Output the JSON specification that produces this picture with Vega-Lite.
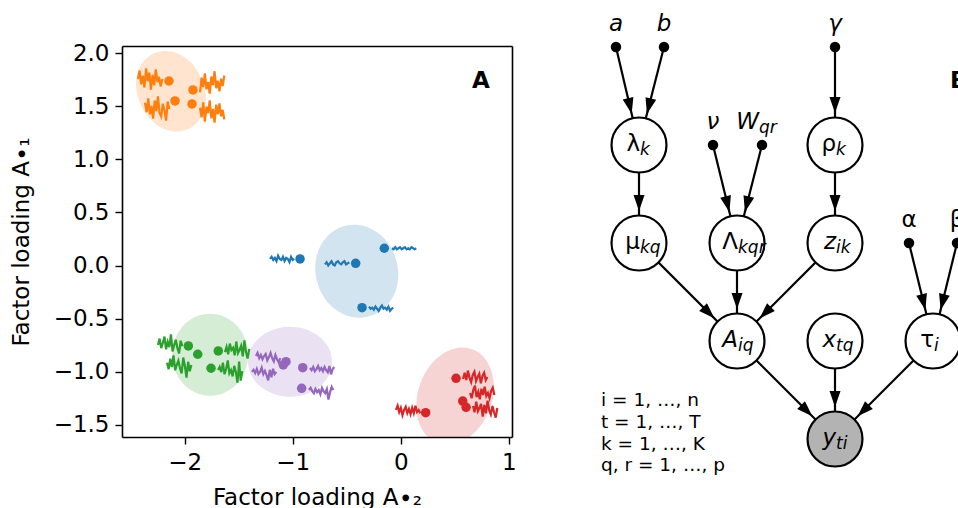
{
  "$schema": "https://vega.github.io/schema/vega-lite/v6.json",
  "width": 958,
  "height": 508,
  "autosize": {"type": "none"},
  "padding": 0,
  "background": "white",
  "config": {"view": {"stroke": null}, "font": "DejaVu Sans"},
  "datasets": {
    "ell": [
      {"c": "o", "x": -2.126, "y": 1.642},
      {"c": "b", "x": -0.407, "y": -0.054},
      {"c": "g", "x": -1.765, "y": -0.84},
      {"c": "p", "x": -1.025, "y": -0.906},
      {"c": "r", "x": 0.503, "y": -1.23}
    ],
    "pts": [
      {"c": "o", "x": -2.145, "y": 1.739}, {"c": "o", "x": -1.923, "y": 1.655}, {"c": "o", "x": -2.089, "y": 1.551}, {"c": "o", "x": -1.932, "y": 1.523},
      {"c": "b", "x": -0.932, "y": 0.062}, {"c": "b", "x": -0.417, "y": 0.021}, {"c": "b", "x": -0.152, "y": 0.163}, {"c": "b", "x": -0.358, "y": -0.397},
      {"c": "g", "x": -1.966, "y": -0.758}, {"c": "g", "x": -1.879, "y": -0.836}, {"c": "g", "x": -1.689, "y": -0.805}, {"c": "g", "x": -1.756, "y": -0.968},
      {"c": "p", "x": -1.062, "y": -0.906}, {"c": "p", "x": -1.087, "y": -0.937}, {"c": "p", "x": -0.907, "y": -0.963}, {"c": "p", "x": -0.917, "y": -1.157},
      {"c": "r", "x": 0.512, "y": -1.063}, {"c": "r", "x": 0.574, "y": -1.277}, {"c": "r", "x": 0.605, "y": -1.336}, {"c": "r", "x": 0.231, "y": -1.387}
    ],
    "ts": [
      {"s":"B1","c":"b","x":-1.210,"y":0.062},{"s":"B1","c":"b","x":-1.195,"y":0.082},{"s":"B1","c":"b","x":-1.180,"y":0.052},{"s":"B1","c":"b","x":-1.165,"y":0.072},{"s":"B1","c":"b","x":-1.150,"y":0.042},{"s":"B1","c":"b","x":-1.135,"y":0.092},{"s":"B1","c":"b","x":-1.120,"y":0.062},{"s":"B1","c":"b","x":-1.105,"y":0.052},{"s":"B1","c":"b","x":-1.090,"y":0.082},{"s":"B1","c":"b","x":-1.075,"y":0.042},{"s":"B1","c":"b","x":-1.060,"y":0.072},{"s":"B1","c":"b","x":-1.045,"y":0.062},{"s":"B1","c":"b","x":-1.030,"y":0.032},{"s":"B1","c":"b","x":-1.015,"y":0.082},{"s":"B1","c":"b","x":-1.000,"y":0.052},{"s":"B1","c":"b","x":-0.985,"y":0.062},
      {"s":"B2","c":"b","x":-0.701,"y":0.011},{"s":"B2","c":"b","x":-0.686,"y":0.031},{"s":"B2","c":"b","x":-0.671,"y":0.001},{"s":"B2","c":"b","x":-0.656,"y":0.021},{"s":"B2","c":"b","x":-0.641,"y":0.041},{"s":"B2","c":"b","x":-0.626,"y":0.011},{"s":"B2","c":"b","x":-0.611,"y":0.001},{"s":"B2","c":"b","x":-0.596,"y":0.031},{"s":"B2","c":"b","x":-0.581,"y":0.041},{"s":"B2","c":"b","x":-0.566,"y":0.021},{"s":"B2","c":"b","x":-0.551,"y":0.011},{"s":"B2","c":"b","x":-0.536,"y":0.031},{"s":"B2","c":"b","x":-0.521,"y":0.041},{"s":"B2","c":"b","x":-0.506,"y":0.011},{"s":"B2","c":"b","x":-0.491,"y":0.021},{"s":"B2","c":"b","x":-0.476,"y":0.031},
      {"s":"B3","c":"b","x":-0.081,"y":0.163},{"s":"B3","c":"b","x":-0.066,"y":0.153},{"s":"B3","c":"b","x":-0.051,"y":0.173},{"s":"B3","c":"b","x":-0.036,"y":0.153},{"s":"B3","c":"b","x":-0.021,"y":0.163},{"s":"B3","c":"b","x":-0.006,"y":0.173},{"s":"B3","c":"b","x":0.009,"y":0.153},{"s":"B3","c":"b","x":0.024,"y":0.163},{"s":"B3","c":"b","x":0.039,"y":0.173},{"s":"B3","c":"b","x":0.054,"y":0.153},{"s":"B3","c":"b","x":0.069,"y":0.163},{"s":"B3","c":"b","x":0.084,"y":0.153},{"s":"B3","c":"b","x":0.099,"y":0.173},{"s":"B3","c":"b","x":0.114,"y":0.163},{"s":"B3","c":"b","x":0.129,"y":0.153},{"s":"B3","c":"b","x":0.144,"y":0.163},
      {"s":"B4","c":"b","x":-0.294,"y":-0.387},{"s":"B4","c":"b","x":-0.279,"y":-0.407},{"s":"B4","c":"b","x":-0.264,"y":-0.397},{"s":"B4","c":"b","x":-0.249,"y":-0.417},{"s":"B4","c":"b","x":-0.234,"y":-0.387},{"s":"B4","c":"b","x":-0.219,"y":-0.407},{"s":"B4","c":"b","x":-0.204,"y":-0.427},{"s":"B4","c":"b","x":-0.189,"y":-0.397},{"s":"B4","c":"b","x":-0.174,"y":-0.377},{"s":"B4","c":"b","x":-0.159,"y":-0.407},{"s":"B4","c":"b","x":-0.144,"y":-0.397},{"s":"B4","c":"b","x":-0.129,"y":-0.417},{"s":"B4","c":"b","x":-0.114,"y":-0.387},{"s":"B4","c":"b","x":-0.099,"y":-0.427},{"s":"B4","c":"b","x":-0.084,"y":-0.407},{"s":"B4","c":"b","x":-0.069,"y":-0.397},
      {"s":"O1","c":"o","x":-2.432,"y":1.758},{"s":"O1","c":"o","x":-2.417,"y":1.838},{"s":"O1","c":"o","x":-2.402,"y":1.708},{"s":"O1","c":"o","x":-2.387,"y":1.788},{"s":"O1","c":"o","x":-2.372,"y":1.678},{"s":"O1","c":"o","x":-2.357,"y":1.858},{"s":"O1","c":"o","x":-2.342,"y":1.738},{"s":"O1","c":"o","x":-2.327,"y":1.818},{"s":"O1","c":"o","x":-2.312,"y":1.658},{"s":"O1","c":"o","x":-2.297,"y":1.798},{"s":"O1","c":"o","x":-2.282,"y":1.698},{"s":"O1","c":"o","x":-2.267,"y":1.848},{"s":"O1","c":"o","x":-2.252,"y":1.728},{"s":"O1","c":"o","x":-2.237,"y":1.778},{"s":"O1","c":"o","x":-2.222,"y":1.688},{"s":"O1","c":"o","x":-2.207,"y":1.758},
      {"s":"O2","c":"o","x":-2.367,"y":1.535},{"s":"O2","c":"o","x":-2.352,"y":1.445},{"s":"O2","c":"o","x":-2.337,"y":1.575},{"s":"O2","c":"o","x":-2.322,"y":1.425},{"s":"O2","c":"o","x":-2.307,"y":1.505},{"s":"O2","c":"o","x":-2.292,"y":1.385},{"s":"O2","c":"o","x":-2.277,"y":1.555},{"s":"O2","c":"o","x":-2.262,"y":1.455},{"s":"O2","c":"o","x":-2.247,"y":1.595},{"s":"O2","c":"o","x":-2.232,"y":1.435},{"s":"O2","c":"o","x":-2.217,"y":1.405},{"s":"O2","c":"o","x":-2.202,"y":1.525},{"s":"O2","c":"o","x":-2.187,"y":1.465},{"s":"O2","c":"o","x":-2.172,"y":1.365},{"s":"O2","c":"o","x":-2.157,"y":1.545},{"s":"O2","c":"o","x":-2.142,"y":1.475},
      {"s":"O3","c":"o","x":-1.858,"y":1.631},{"s":"O3","c":"o","x":-1.843,"y":1.771},{"s":"O3","c":"o","x":-1.828,"y":1.681},{"s":"O3","c":"o","x":-1.813,"y":1.811},{"s":"O3","c":"o","x":-1.798,"y":1.661},{"s":"O3","c":"o","x":-1.783,"y":1.731},{"s":"O3","c":"o","x":-1.768,"y":1.621},{"s":"O3","c":"o","x":-1.753,"y":1.781},{"s":"O3","c":"o","x":-1.738,"y":1.701},{"s":"O3","c":"o","x":-1.723,"y":1.831},{"s":"O3","c":"o","x":-1.708,"y":1.671},{"s":"O3","c":"o","x":-1.693,"y":1.741},{"s":"O3","c":"o","x":-1.678,"y":1.641},{"s":"O3","c":"o","x":-1.663,"y":1.761},{"s":"O3","c":"o","x":-1.648,"y":1.691},{"s":"O3","c":"o","x":-1.633,"y":1.791},
      {"s":"O4","c":"o","x":-1.858,"y":1.487},{"s":"O4","c":"o","x":-1.843,"y":1.397},{"s":"O4","c":"o","x":-1.828,"y":1.537},{"s":"O4","c":"o","x":-1.813,"y":1.357},{"s":"O4","c":"o","x":-1.798,"y":1.497},{"s":"O4","c":"o","x":-1.783,"y":1.437},{"s":"O4","c":"o","x":-1.768,"y":1.557},{"s":"O4","c":"o","x":-1.753,"y":1.387},{"s":"O4","c":"o","x":-1.738,"y":1.477},{"s":"O4","c":"o","x":-1.723,"y":1.347},{"s":"O4","c":"o","x":-1.708,"y":1.517},{"s":"O4","c":"o","x":-1.693,"y":1.427},{"s":"O4","c":"o","x":-1.678,"y":1.527},{"s":"O4","c":"o","x":-1.663,"y":1.407},{"s":"O4","c":"o","x":-1.648,"y":1.467},{"s":"O4","c":"o","x":-1.633,"y":1.377},
      {"s":"G1","c":"g","x":-2.247,"y":-0.749},{"s":"G1","c":"g","x":-2.232,"y":-0.689},{"s":"G1","c":"g","x":-2.217,"y":-0.779},{"s":"G1","c":"g","x":-2.202,"y":-0.729},{"s":"G1","c":"g","x":-2.187,"y":-0.669},{"s":"G1","c":"g","x":-2.172,"y":-0.789},{"s":"G1","c":"g","x":-2.157,"y":-0.719},{"s":"G1","c":"g","x":-2.142,"y":-0.769},{"s":"G1","c":"g","x":-2.127,"y":-0.649},{"s":"G1","c":"g","x":-2.112,"y":-0.809},{"s":"G1","c":"g","x":-2.097,"y":-0.749},{"s":"G1","c":"g","x":-2.082,"y":-0.699},{"s":"G1","c":"g","x":-2.067,"y":-0.779},{"s":"G1","c":"g","x":-2.052,"y":-0.829},{"s":"G1","c":"g","x":-2.037,"y":-0.709},{"s":"G1","c":"g","x":-2.022,"y":-0.759},
      {"s":"G2","c":"g","x":-2.163,"y":-0.917},{"s":"G2","c":"g","x":-2.148,"y":-0.977},{"s":"G2","c":"g","x":-2.133,"y":-0.877},{"s":"G2","c":"g","x":-2.118,"y":-0.957},{"s":"G2","c":"g","x":-2.103,"y":-0.847},{"s":"G2","c":"g","x":-2.088,"y":-0.987},{"s":"G2","c":"g","x":-2.073,"y":-0.937},{"s":"G2","c":"g","x":-2.058,"y":-0.897},{"s":"G2","c":"g","x":-2.043,"y":-0.967},{"s":"G2","c":"g","x":-2.028,"y":-1.017},{"s":"G2","c":"g","x":-2.013,"y":-0.867},{"s":"G2","c":"g","x":-1.998,"y":-0.947},{"s":"G2","c":"g","x":-1.983,"y":-1.057},{"s":"G2","c":"g","x":-1.968,"y":-0.907},{"s":"G2","c":"g","x":-1.953,"y":-0.997},{"s":"G2","c":"g","x":-1.938,"y":-0.937},
      {"s":"G3","c":"g","x":-1.627,"y":-0.816},{"s":"G3","c":"g","x":-1.612,"y":-0.766},{"s":"G3","c":"g","x":-1.597,"y":-0.836},{"s":"G3","c":"g","x":-1.582,"y":-0.736},{"s":"G3","c":"g","x":-1.567,"y":-0.796},{"s":"G3","c":"g","x":-1.552,"y":-0.776},{"s":"G3","c":"g","x":-1.537,"y":-0.846},{"s":"G3","c":"g","x":-1.522,"y":-0.716},{"s":"G3","c":"g","x":-1.507,"y":-0.826},{"s":"G3","c":"g","x":-1.492,"y":-0.796},{"s":"G3","c":"g","x":-1.477,"y":-0.756},{"s":"G3","c":"g","x":-1.462,"y":-0.856},{"s":"G3","c":"g","x":-1.447,"y":-0.706},{"s":"G3","c":"g","x":-1.432,"y":-0.816},{"s":"G3","c":"g","x":-1.417,"y":-0.876},{"s":"G3","c":"g","x":-1.402,"y":-0.786},
      {"s":"G4","c":"g","x":-1.691,"y":-0.985},{"s":"G4","c":"g","x":-1.676,"y":-0.955},{"s":"G4","c":"g","x":-1.661,"y":-1.005},{"s":"G4","c":"g","x":-1.646,"y":-0.915},{"s":"G4","c":"g","x":-1.631,"y":-1.025},{"s":"G4","c":"g","x":-1.616,"y":-0.975},{"s":"G4","c":"g","x":-1.601,"y":-0.895},{"s":"G4","c":"g","x":-1.586,"y":-1.015},{"s":"G4","c":"g","x":-1.571,"y":-0.985},{"s":"G4","c":"g","x":-1.556,"y":-1.045},{"s":"G4","c":"g","x":-1.541,"y":-0.945},{"s":"G4","c":"g","x":-1.526,"y":-1.005},{"s":"G4","c":"g","x":-1.511,"y":-1.105},{"s":"G4","c":"g","x":-1.496,"y":-0.905},{"s":"G4","c":"g","x":-1.481,"y":-1.085},{"s":"G4","c":"g","x":-1.466,"y":-0.995},
      {"s":"P1","c":"p","x":-1.340,"y":-0.853},{"s":"P1","c":"p","x":-1.325,"y":-0.823},{"s":"P1","c":"p","x":-1.310,"y":-0.873},{"s":"P1","c":"p","x":-1.295,"y":-0.843},{"s":"P1","c":"p","x":-1.280,"y":-0.883},{"s":"P1","c":"p","x":-1.265,"y":-0.853},{"s":"P1","c":"p","x":-1.250,"y":-0.833},{"s":"P1","c":"p","x":-1.235,"y":-0.893},{"s":"P1","c":"p","x":-1.220,"y":-0.863},{"s":"P1","c":"p","x":-1.205,"y":-0.823},{"s":"P1","c":"p","x":-1.190,"y":-0.873},{"s":"P1","c":"p","x":-1.175,"y":-0.903},{"s":"P1","c":"p","x":-1.160,"y":-0.843},{"s":"P1","c":"p","x":-1.145,"y":-0.883},{"s":"P1","c":"p","x":-1.130,"y":-0.913},{"s":"P1","c":"p","x":-1.115,"y":-0.873},
      {"s":"P2","c":"p","x":-1.377,"y":-1.003},{"s":"P2","c":"p","x":-1.362,"y":-0.983},{"s":"P2","c":"p","x":-1.347,"y":-1.013},{"s":"P2","c":"p","x":-1.332,"y":-0.973},{"s":"P2","c":"p","x":-1.317,"y":-1.023},{"s":"P2","c":"p","x":-1.302,"y":-1.003},{"s":"P2","c":"p","x":-1.287,"y":-0.963},{"s":"P2","c":"p","x":-1.272,"y":-1.023},{"s":"P2","c":"p","x":-1.257,"y":-0.993},{"s":"P2","c":"p","x":-1.242,"y":-1.033},{"s":"P2","c":"p","x":-1.227,"y":-1.083},{"s":"P2","c":"p","x":-1.212,"y":-0.983},{"s":"P2","c":"p","x":-1.197,"y":-1.053},{"s":"P2","c":"p","x":-1.182,"y":-0.973},{"s":"P2","c":"p","x":-1.167,"y":-1.023},{"s":"P2","c":"p","x":-1.152,"y":-1.003},
      {"s":"P3","c":"p","x":-0.840,"y":-0.966},{"s":"P3","c":"p","x":-0.825,"y":-0.986},{"s":"P3","c":"p","x":-0.810,"y":-0.956},{"s":"P3","c":"p","x":-0.795,"y":-0.996},{"s":"P3","c":"p","x":-0.780,"y":-0.976},{"s":"P3","c":"p","x":-0.765,"y":-0.946},{"s":"P3","c":"p","x":-0.750,"y":-0.986},{"s":"P3","c":"p","x":-0.735,"y":-0.966},{"s":"P3","c":"p","x":-0.720,"y":-0.996},{"s":"P3","c":"p","x":-0.705,"y":-0.956},{"s":"P3","c":"p","x":-0.690,"y":-0.986},{"s":"P3","c":"p","x":-0.675,"y":-1.006},{"s":"P3","c":"p","x":-0.660,"y":-0.946},{"s":"P3","c":"p","x":-0.645,"y":-1.026},{"s":"P3","c":"p","x":-0.630,"y":-0.976},{"s":"P3","c":"p","x":-0.615,"y":-0.956},
      {"s":"P4","c":"p","x":-0.849,"y":-1.173},{"s":"P4","c":"p","x":-0.834,"y":-1.153},{"s":"P4","c":"p","x":-0.819,"y":-1.183},{"s":"P4","c":"p","x":-0.804,"y":-1.203},{"s":"P4","c":"p","x":-0.789,"y":-1.163},{"s":"P4","c":"p","x":-0.774,"y":-1.193},{"s":"P4","c":"p","x":-0.759,"y":-1.173},{"s":"P4","c":"p","x":-0.744,"y":-1.213},{"s":"P4","c":"p","x":-0.729,"y":-1.153},{"s":"P4","c":"p","x":-0.714,"y":-1.183},{"s":"P4","c":"p","x":-0.699,"y":-1.203},{"s":"P4","c":"p","x":-0.684,"y":-1.163},{"s":"P4","c":"p","x":-0.669,"y":-1.263},{"s":"P4","c":"p","x":-0.654,"y":-1.193},{"s":"P4","c":"p","x":-0.639,"y":-1.143},{"s":"P4","c":"p","x":-0.624,"y":-1.173},
      {"s":"R1","c":"r","x":-0.044,"y":-1.361},{"s":"R1","c":"r","x":-0.029,"y":-1.321},{"s":"R1","c":"r","x":-0.014,"y":-1.381},{"s":"R1","c":"r","x":0.001,"y":-1.341},{"s":"R1","c":"r","x":0.016,"y":-1.411},{"s":"R1","c":"r","x":0.031,"y":-1.361},{"s":"R1","c":"r","x":0.046,"y":-1.331},{"s":"R1","c":"r","x":0.061,"y":-1.391},{"s":"R1","c":"r","x":0.076,"y":-1.351},{"s":"R1","c":"r","x":0.091,"y":-1.401},{"s":"R1","c":"r","x":0.106,"y":-1.341},{"s":"R1","c":"r","x":0.121,"y":-1.391},{"s":"R1","c":"r","x":0.136,"y":-1.321},{"s":"R1","c":"r","x":0.151,"y":-1.381},{"s":"R1","c":"r","x":0.166,"y":-1.361},{"s":"R1","c":"r","x":0.181,"y":-1.391},
      {"s":"R2","c":"r","x":0.577,"y":-1.070},{"s":"R2","c":"r","x":0.592,"y":-1.010},{"s":"R2","c":"r","x":0.607,"y":-1.080},{"s":"R2","c":"r","x":0.622,"y":-0.990},{"s":"R2","c":"r","x":0.637,"y":-1.060},{"s":"R2","c":"r","x":0.652,"y":-1.100},{"s":"R2","c":"r","x":0.667,"y":-1.030},{"s":"R2","c":"r","x":0.682,"y":-1.000},{"s":"R2","c":"r","x":0.697,"y":-1.090},{"s":"R2","c":"r","x":0.712,"y":-1.050},{"s":"R2","c":"r","x":0.727,"y":-1.020},{"s":"R2","c":"r","x":0.742,"y":-1.110},{"s":"R2","c":"r","x":0.757,"y":-1.040},{"s":"R2","c":"r","x":0.772,"y":-1.010},{"s":"R2","c":"r","x":0.787,"y":-1.080},{"s":"R2","c":"r","x":0.802,"y":-1.050},
      {"s":"R3","c":"r","x":0.642,"y":-1.201},{"s":"R3","c":"r","x":0.657,"y":-1.251},{"s":"R3","c":"r","x":0.672,"y":-1.171},{"s":"R3","c":"r","x":0.687,"y":-1.131},{"s":"R3","c":"r","x":0.702,"y":-1.241},{"s":"R3","c":"r","x":0.717,"y":-1.191},{"s":"R3","c":"r","x":0.732,"y":-1.261},{"s":"R3","c":"r","x":0.747,"y":-1.161},{"s":"R3","c":"r","x":0.762,"y":-1.221},{"s":"R3","c":"r","x":0.777,"y":-1.141},{"s":"R3","c":"r","x":0.792,"y":-1.231},{"s":"R3","c":"r","x":0.807,"y":-1.201},{"s":"R3","c":"r","x":0.822,"y":-1.251},{"s":"R3","c":"r","x":0.837,"y":-1.181},{"s":"R3","c":"r","x":0.852,"y":-1.151},{"s":"R3","c":"r","x":0.867,"y":-1.221},
      {"s":"R4","c":"r","x":0.669,"y":-1.323},{"s":"R4","c":"r","x":0.684,"y":-1.383},{"s":"R4","c":"r","x":0.699,"y":-1.283},{"s":"R4","c":"r","x":0.714,"y":-1.373},{"s":"R4","c":"r","x":0.729,"y":-1.343},{"s":"R4","c":"r","x":0.744,"y":-1.303},{"s":"R4","c":"r","x":0.759,"y":-1.423},{"s":"R4","c":"r","x":0.774,"y":-1.313},{"s":"R4","c":"r","x":0.789,"y":-1.393},{"s":"R4","c":"r","x":0.804,"y":-1.273},{"s":"R4","c":"r","x":0.819,"y":-1.363},{"s":"R4","c":"r","x":0.834,"y":-1.403},{"s":"R4","c":"r","x":0.849,"y":-1.323},{"s":"R4","c":"r","x":0.864,"y":-1.383},{"s":"R4","c":"r","x":0.879,"y":-1.433},{"s":"R4","c":"r","x":0.894,"y":-1.343}
    ],
    "nodes": [
      {"x": 1, "y": 4, "main": "λ", "sub": "k", "obs": false},
      {"x": 3, "y": 4, "main": "ρ", "sub": "k", "obs": false},
      {"x": 1, "y": 3, "main": "μ", "sub": "kq", "obs": false},
      {"x": 2, "y": 3, "main": "Λ", "sub": "kqr", "obs": false},
      {"x": 3, "y": 3, "main": "z", "sub": "ik", "obs": false},
      {"x": 2, "y": 2, "main": "A", "sub": "iq", "obs": false},
      {"x": 3, "y": 2, "main": "x", "sub": "tq", "obs": false},
      {"x": 4, "y": 2, "main": "τ", "sub": "i", "obs": false},
      {"x": 3, "y": 1, "main": "y", "sub": "ti", "obs": true}
    ],
    "hypers": [
      {"x": 0.765, "y": 5, "main": "a", "sub": ""},
      {"x": 1.255, "y": 5, "main": "b", "sub": ""},
      {"x": 3, "y": 5, "main": "γ", "sub": ""},
      {"x": 1.755, "y": 4, "main": "ν", "sub": ""},
      {"x": 2.255, "y": 4, "main": "W", "sub": "qr"},
      {"x": 3.755, "y": 3, "main": "α", "sub": ""},
      {"x": 4.245, "y": 3, "main": "β", "sub": ""}
    ],
    "edges": [
      {"x": 0.765, "y": 5, "x2": 1, "y2": 4},
      {"x": 1.255, "y": 5, "x2": 1, "y2": 4},
      {"x": 1, "y": 4, "x2": 1, "y2": 3},
      {"x": 1.755, "y": 4, "x2": 2, "y2": 3},
      {"x": 2.255, "y": 4, "x2": 2, "y2": 3},
      {"x": 3, "y": 5, "x2": 3, "y2": 4},
      {"x": 3, "y": 4, "x2": 3, "y2": 3},
      {"x": 3.755, "y": 3, "x2": 4, "y2": 2},
      {"x": 4.245, "y": 3, "x2": 4, "y2": 2},
      {"x": 1, "y": 3, "x2": 2, "y2": 2},
      {"x": 2, "y": 3, "x2": 2, "y2": 2},
      {"x": 3, "y": 3, "x2": 2, "y2": 2},
      {"x": 2, "y": 2, "x2": 3, "y2": 1},
      {"x": 3, "y": 2, "x2": 3, "y2": 1},
      {"x": 4, "y": 2, "x2": 3, "y2": 1}
    ],
    "notes": [
      {"x": 0.612, "y": 1.337, "t": ["i = 1, …, n", "t = 1, …, T", "k = 1, …, K", "q, r = 1, …, p"]}
    ],
    "panel": [
      {"x": 4.173, "y": 4.582, "t": "B"}
    ]
  },
  "layer": [
    {
      "resolve": {"axis": {"x": "independent", "y": "independent"}},
      "layer": [
        {
          "data": {"name": "ell"},
          "mark": {"type": "point", "filled": true, "opacity": 0.2, "size": 4, "strokeWidth": 0},
          "encoding": {
            "x": {"field": "x", "type": "quantitative",
              "scale": {"domain": [-2.58, 1.03], "range": [122, 512], "nice": false, "zero": false},
              "axis": {"orient": "bottom", "offset": -71, "values": [-2, -1, 0, 1], "format": "d", "grid": false,
                "tickSize": 7, "tickWidth": 1.4, "tickColor": "black", "domainColor": "black", "domainWidth": 1.6,
                "labelFontSize": 23, "labelColor": "black", "labelPadding": 7, "labelFlush": false, "labelFont": "DejaVu Sans",
                "title": "Factor loading A∙₂", "titleFontSize": 23, "titleFontWeight": "normal", "titleColor": "black", "titleFont": "DejaVu Sans", "titlePadding": 12}},
            "y": {"field": "y", "type": "quantitative",
              "scale": {"domain": [-1.616, 2.069], "range": [437, 46], "nice": false, "zero": false},
              "axis": {"orient": "left", "offset": -122, "values": [-1.5, -1, -0.5, 0, 0.5, 1, 1.5, 2], "format": ".1f", "grid": false,
                "tickSize": 7, "tickWidth": 1.4, "tickColor": "black", "domainColor": "black", "domainWidth": 1.6,
                "labelFontSize": 23, "labelColor": "black", "labelPadding": 6, "labelFlush": false, "labelFont": "DejaVu Sans",
                "title": "Factor loading A∙₁", "titleFontSize": 23, "titleFontWeight": "normal", "titleColor": "black", "titleFont": "DejaVu Sans", "titlePadding": 20}},
            "color": {"field": "c", "type": "nominal", "scale": {"domain": ["b", "o", "g", "r", "p"], "range": ["#1f77b4", "#ff7f0e", "#2ca02c", "#d62728", "#9467bd"]}, "legend": null},
            "shape": {"field": "c", "type": "nominal", "legend": null,
              "scale": {"domain": ["o", "b", "g", "p", "r"],
                "range": [
                  "M -29.9 13.9 A 33 40 -25 1 1 29.9 -13.9 A 33 40 -25 1 1 -29.9 13.9 Z",
                  "M -39.6 10.6 A 41 46 -15 1 1 39.6 -10.6 A 41 46 -15 1 1 -39.6 10.6 Z",
                  "M -38 0 A 38 41 0 1 1 38 0 A 38 41 0 1 1 -38 0 Z",
                  "M -42 0 A 42 35 0 1 1 42 0 A 42 35 0 1 1 -42 0 Z",
                  "M 14.2 41 L -26.8 41 A 37 50 20 1 1 14.2 41 Z"
                ]}}
          }
        },
        {
          "data": {"name": "ts"},
          "mark": {"type": "line", "strokeWidth": 2.2},
          "encoding": {
            "x": {"field": "x", "type": "quantitative", "scale": {"domain": [-2.58, 1.03], "range": [122, 512], "nice": false, "zero": false}, "axis": null},
            "y": {"field": "y", "type": "quantitative", "scale": {"domain": [-1.616, 2.069], "range": [437, 46], "nice": false, "zero": false}, "axis": null},
            "color": {"field": "c", "type": "nominal", "legend": null},
            "detail": {"field": "s", "type": "nominal"}
          }
        },
        {
          "data": {"name": "pts"},
          "mark": {"type": "point", "filled": true, "opacity": 1, "size": 90, "strokeWidth": 0},
          "encoding": {
            "x": {"field": "x", "type": "quantitative", "scale": {"domain": [-2.58, 1.03], "range": [122, 512], "nice": false, "zero": false},
              "axis": {"orient": "top", "offset": -46, "labels": false, "ticks": false, "title": null, "grid": false, "domainColor": "black", "domainWidth": 1.6}},
            "y": {"field": "y", "type": "quantitative", "scale": {"domain": [-1.616, 2.069], "range": [437, 46], "nice": false, "zero": false},
              "axis": {"orient": "right", "offset": -446, "labels": false, "ticks": false, "title": null, "grid": false, "domainColor": "black", "domainWidth": 1.6}},
            "color": {"field": "c", "type": "nominal", "legend": null}
          }
        },
        {
          "data": {"values": [{}]},
          "mark": {"type": "text", "text": "A", "fontWeight": "bold", "fontSize": 23, "align": "center", "baseline": "alphabetic", "color": "black", "font": "DejaVu Sans"},
          "encoding": {
            "x": {"datum": 0.743, "type": "quantitative", "scale": {"domain": [-2.58, 1.03], "range": [122, 512], "nice": false, "zero": false}, "axis": null},
            "y": {"datum": 1.673, "type": "quantitative", "scale": {"domain": [-1.616, 2.069], "range": [437, 46], "nice": false, "zero": false}, "axis": null}
          }
        }
      ]
    },
    {
      "encoding": {
        "x": {"field": "x", "type": "quantitative", "scale": {"domain": [0, 4], "range": [541, 933], "nice": false, "zero": false}, "axis": null},
        "y": {"field": "y", "type": "quantitative", "scale": {"domain": [0, 5], "range": [537, 47], "nice": false, "zero": false}, "axis": null}
      },
      "layer": [
        {
          "data": {"name": "edges"},
          "mark": {"type": "rule", "strokeWidth": 2.2, "color": "black"},
          "encoding": {"x2": {"field": "x2"}, "y2": {"field": "y2"}}
        },
        {
          "data": {"name": "nodes"},
          "mark": {"type": "point", "shape": "circle", "size": 3020, "filled": true, "stroke": "black", "strokeWidth": 2.2, "opacity": 1},
          "encoding": {"fill": {"condition": {"test": "datum.obs", "value": "#b3b3b3"}, "value": "white"}}
        },
        {
          "data": {"name": "edges"},
          "transform": [{"calculate": "atan2(datum.x2 - datum.x, datum.y2 - datum.y) * 180 / PI", "as": "ang"}],
          "mark": {"type": "point", "shape": "M 0 32 L -5.5 48 L 5.5 48 Z", "size": 4, "filled": true, "color": "black", "opacity": 1, "strokeWidth": 0},
          "encoding": {
            "x": {"field": "x2", "type": "quantitative", "scale": {"domain": [0, 4], "range": [541, 933], "nice": false, "zero": false}, "axis": null},
            "y": {"field": "y2", "type": "quantitative", "scale": {"domain": [0, 5], "range": [537, 47], "nice": false, "zero": false}, "axis": null},
            "angle": {"field": "ang", "type": "quantitative", "scale": null}
          }
        },
        {
          "data": {"name": "hypers"},
          "mark": {"type": "point", "shape": "circle", "size": 110, "filled": true, "color": "black", "opacity": 1, "strokeWidth": 0}
        },
        {
          "data": {"name": "nodes"},
          "transform": [{"filter": "indexof('λρμΛταβ', datum.main) >= 0"}],
          "mark": {"type": "text", "align": "right", "baseline": "alphabetic", "dx": 1, "dy": 6, "fontSize": 23, "color": "black", "font": "DejaVu Sans"},
          "encoding": {"text": {"field": "main"}}
        },
        {
          "data": {"name": "nodes"},
          "transform": [{"filter": "indexof('λρμΛταβ', datum.main) < 0"}],
          "mark": {"type": "text", "align": "right", "baseline": "alphabetic", "dx": 1, "dy": 6, "fontSize": 23, "fontStyle": "italic", "color": "black", "font": "DejaVu Sans"},
          "encoding": {"text": {"field": "main"}}
        },
        {
          "data": {"name": "nodes"},
          "mark": {"type": "text", "align": "left", "baseline": "alphabetic", "dx": 1, "dy": 10, "fontSize": 17, "fontStyle": "italic", "color": "black", "font": "DejaVu Sans"},
          "encoding": {"text": {"field": "sub"}}
        },
        {
          "data": {"name": "hypers"},
          "transform": [{"filter": "datum.sub == '' && indexof('αβ', datum.main) >= 0"}],
          "mark": {"type": "text", "align": "center", "baseline": "alphabetic", "dy": -16, "fontSize": 23, "color": "black", "font": "DejaVu Sans"},
          "encoding": {"text": {"field": "main"}}
        },
        {
          "data": {"name": "hypers"},
          "transform": [{"filter": "datum.sub == '' && indexof('αβ', datum.main) < 0"}],
          "mark": {"type": "text", "align": "center", "baseline": "alphabetic", "dy": -16, "fontSize": 23, "fontStyle": "italic", "color": "black", "font": "DejaVu Sans"},
          "encoding": {"text": {"field": "main"}}
        },
        {
          "data": {"name": "hypers"},
          "transform": [{"filter": "datum.sub != ''"}],
          "mark": {"type": "text", "align": "right", "baseline": "alphabetic", "dx": -3, "dy": -16, "fontSize": 23, "fontStyle": "italic", "color": "black", "font": "DejaVu Sans"},
          "encoding": {"text": {"field": "main"}}
        },
        {
          "data": {"name": "hypers"},
          "transform": [{"filter": "datum.sub != ''"}],
          "mark": {"type": "text", "align": "left", "baseline": "alphabetic", "dx": -3, "dy": -12, "fontSize": 17, "fontStyle": "italic", "color": "black", "font": "DejaVu Sans"},
          "encoding": {"text": {"field": "sub"}}
        },
        {
          "data": {"name": "notes"},
          "mark": {"type": "text", "lineHeight": 21.8, "align": "left", "baseline": "alphabetic", "fontSize": 18.5, "color": "black", "font": "DejaVu Sans"},
          "encoding": {"text": {"field": "t"}}
        },
        {
          "data": {"name": "panel"},
          "mark": {"type": "text", "fontWeight": "bold", "fontSize": 23, "align": "left", "baseline": "alphabetic", "color": "black", "font": "DejaVu Sans"},
          "encoding": {"text": {"field": "t"}}
        }
      ]
    }
  ],
  "resolve": {"scale": {"x": "independent", "y": "independent"}}
}
